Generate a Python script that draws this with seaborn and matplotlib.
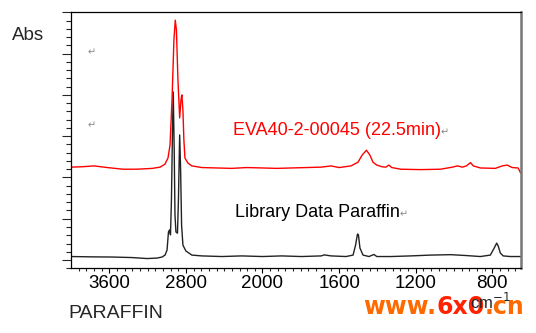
import numpy as np
import pandas as pd
import matplotlib
matplotlib.use("Agg")
import matplotlib.pyplot as plt
from matplotlib.ticker import FixedLocator, MultipleLocator
import seaborn as sns

# wavenumber (cm-1) / absorbance
sample_wn = [4000, 3880, 3760, 3620, 3460, 3310, 3150, 3070, 3020, 2987, 2966, 2945,
             2925, 2911, 2899, 2883, 2865, 2852, 2842, 2831, 2821, 2810, 2779, 2738,
             2634, 2478, 2322, 2166, 2000, 1927, 1849, 1771, 1693, 1642, 1600, 1538,
             1501, 1480, 1457, 1439, 1423, 1403, 1377, 1356, 1340, 1325, 1278, 1174,
             1070, 1008, 982, 956, 935, 914, 899, 862, 784, 748, 722, 696, 665, 652]
sample_abs = [2.25, 2.26, 2.28, 2.24, 2.20, 2.20, 2.22, 2.25, 2.32, 2.47, 2.78, 3.87,
              5.33, 5.81, 5.57, 4.36, 3.44, 3.87, 4.00, 3.63, 2.91, 2.47, 2.35, 2.28,
              2.24, 2.23, 2.22, 2.24, 2.23, 2.22, 2.23, 2.24, 2.25, 2.28, 2.24, 2.28,
              2.37, 2.54, 2.66, 2.54, 2.37, 2.30, 2.26, 2.25, 2.30, 2.24, 2.20, 2.19,
              2.20, 2.25, 2.28, 2.25, 2.28, 2.36, 2.28, 2.23, 2.22, 2.28, 2.30, 2.24,
              2.23, 2.11]

library_wn = [4000, 3777, 3569, 3361, 3205, 3101, 3049, 3018, 2997, 2982, 2971, 2961,
              2951, 2940, 2932, 2922, 2914, 2904, 2888, 2878, 2865, 2855, 2845, 2831,
              2800, 2738, 2634, 2426, 2218, 2000, 1901, 1797, 1693, 1678, 1642, 1564,
              1527, 1514, 1504, 1499, 1491, 1475, 1444, 1418, 1403, 1330, 1226, 1122,
              1018, 940, 862, 810, 790, 777, 769, 758, 743, 706, 650]
library_abs = [0.085, 0.077, 0.073, 0.06, 0.036, 0.048, 0.073, 0.12, 0.24, 0.68, 0.73, 0.61,
               1.45, 3.15, 4.07, 2.66, 1.09, 0.68, 0.65, 1.45, 3.03, 2.18, 0.85, 0.36,
               0.22, 0.12, 0.10, 0.085, 0.10, 0.085, 0.10, 0.085, 0.10, 0.125, 0.10, 0.085,
               0.12, 0.36, 0.63, 0.61, 0.29, 0.12, 0.085, 0.135, 0.085, 0.085, 0.10, 0.12,
               0.13, 0.11, 0.085, 0.12, 0.29, 0.41, 0.34, 0.17, 0.10, 0.085, 0.085]

tick_wn = [3600, 2800, 2000, 1600, 1200, 800]
tick_labels = ["3600", "2800", "2000", "1600", "1200", "800"]

df = pd.concat([
    pd.DataFrame({"wn": library_wn, "abs": library_abs, "series": "library"}),
    pd.DataFrame({"wn": sample_wn, "abs": sample_abs, "series": "sample"}),
])

sns.set_style("ticks")
plt.rcParams["font.family"] = ["Liberation Sans", "DejaVu Sans"]

fig = plt.figure(figsize=(5.36, 3.33), dpi=100)
ax = fig.add_axes([71 / 536, 1 - 268.3 / 333, 450 / 536, 256 / 333])

sns.lineplot(data=df, x="wn", y="abs", hue="series", estimator=None, sort=False,
             palette={"library": "#222222", "sample": "#ff0000"}, linewidth=1.0,
             legend=False, ax=ax)


# IR axis: above 2000 cm-1 the scale is compressed by half
def fwd(w):
    w = np.asarray(w, dtype=float)
    return np.where(w >= 2000, 2000 + (w - 2000) / 2, w)


def inv(u):
    u = np.asarray(u, dtype=float)
    return np.where(u >= 2000, 2000 + 2 * (u - 2000), u)


ax.set_xscale("function", functions=(fwd, inv))
ax.set_xlim(4000, 650)
ax.set_ylim(-0.2, 6.0)

ax.set_xticks(tick_wn, tick_labels)
minors = list(range(3920, 2000, -80)) + list(range(1960, 650, -40))
ax.xaxis.set_minor_locator(FixedLocator(minors))
ax.yaxis.set_major_locator(MultipleLocator(1.0))
ax.yaxis.set_minor_locator(MultipleLocator(0.2))
ax.tick_params(axis="x", which="major", length=3.8, width=0.8, pad=1, labelsize=13.5, colors="black")
ax.tick_params(axis="x", which="minor", length=2.3, width=0.8)
ax.tick_params(axis="y", which="major", length=6.3, width=0.8, labelleft=False)
ax.tick_params(axis="y", which="minor", length=3.8, width=0.8)
ax.set_xlabel("")
ax.set_ylabel("")

for s in ["left", "bottom", "top"]:
    ax.spines[s].set_color("black")
    ax.spines[s].set_linewidth(0.9)
ax.spines["right"].set_color("#777777")
ax.spines["right"].set_linewidth(1.8)

# labels (with the grey Word paragraph marks)
t1 = ax.text(0.36, 0.539, "EVA40-2-00045 (22.5min)", transform=ax.transAxes,
             color="#ff0000", fontsize=13, va="center", ha="left")
ax.annotate("\u21b5", xy=(1, 0.4), xycoords=t1, va="center", ha="left",
            color="#888888", fontsize=7)
t2 = ax.text(0.364, 0.219, "Library Data Paraffin", transform=ax.transAxes,
             color="black", fontsize=13, va="center", ha="left")
ax.annotate("\u21b5", xy=(1, 0.4), xycoords=t2, va="center", ha="left",
            color="#888888", fontsize=7)

fig.text(12 / 536, 1 - 35 / 333, "Abs", fontsize=13.5, va="center", ha="left")
fig.text(88 / 536, 1 - 52 / 333, "\u21b5", fontsize=7, color="#888888", va="center")
fig.text(88 / 536, 1 - 125 / 333, "\u21b5", fontsize=7, color="#888888", va="center")
fig.text(68 / 536, 1 - 313 / 333, "PARAFFIN", fontsize=14, va="center", ha="left")
fig.text(470 / 536, 1 - 302 / 333, "cm$^{-1}$", fontsize=12, va="center", ha="left")

# site watermark
w1 = fig.text(363 / 536, 1 - 307 / 333, "www.", fontsize=17, fontweight="bold",
              color="#ff6a00", family="DejaVu Sans", va="center", ha="left")
w2 = ax.annotate("6x0", xy=(1, 0.5), xycoords=w1, va="center", ha="left", fontsize=17,
                 fontweight="bold", color="#ff2200", family="DejaVu Sans",
                 annotation_clip=False)
ax.annotate(".cn", xy=(1, 0.5), xycoords=w2, va="center", ha="left", fontsize=17,
            fontweight="bold", color="#ff6a00", family="DejaVu Sans", annotation_clip=False)

fig.savefig("out.png", dpi=100)
